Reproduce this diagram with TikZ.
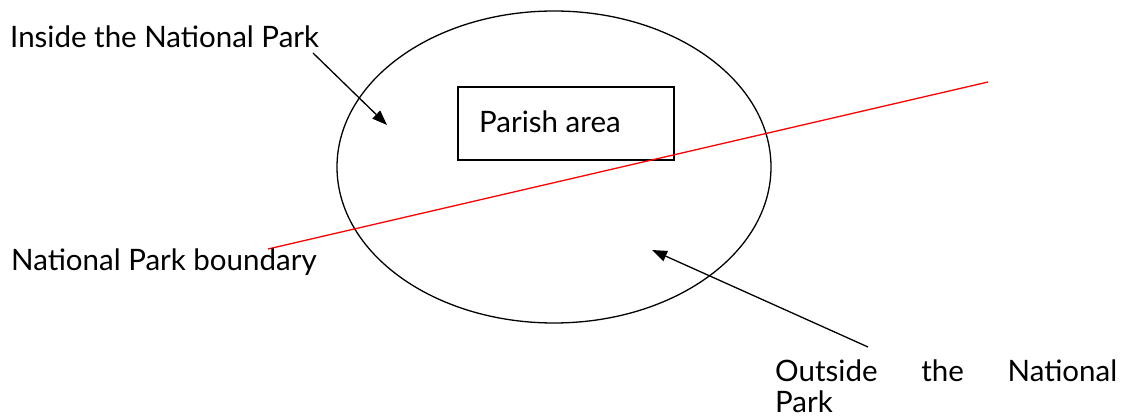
\documentclass[tikz,border=0pt]{standalone}
\usepackage{fontspec}
\setmainfont{Lato}
\usetikzlibrary{arrows.meta}
\begin{document}
\begin{tikzpicture}[x=1pt,y=-1pt,
  lbl/.style={inner sep=0pt,font=\fontsize{29.5}{34}\selectfont},
  pointer/.style={line width=1.3pt,-{Triangle[length=15pt,width=11pt]}}]
\useasboundingbox (0,0) rectangle (1125,419);
\draw[line width=1.3pt] (554,167) ellipse [x radius=217, y radius=156];
\node[draw,line width=1.3pt,minimum width=216pt,minimum height=73pt,inner sep=0pt] (parish) at (566,123.5) {};
\node[lbl,anchor=base west] (parishtxt) at (479,133) {Parish area};
\coordinate (r1) at (268,249);
\coordinate (r2) at (988,82);
\draw[red,line width=1.3pt] (r1) -- (r2);
\node[lbl,anchor=base west] (inside) at (10,48) {Inside the National Park};
\node[lbl,anchor=base west] (boundary) at (11,271) {National Park boundary};
\node[lbl,anchor=base west] (outside) at (775,382) {\makebox[342pt][s]{Outside the National}};
\node[lbl,anchor=base west] (park) at (775,413) {Park};
\coordinate (a1s) at (313,53);
\coordinate (a1e) at (387,125);
\coordinate (a2s) at (868,347);
\coordinate (a2e) at (652,250);
\draw[pointer] (a1s) -- (a1e);
\draw[pointer] (a2s) -- (a2e);
\end{tikzpicture}
\end{document}
